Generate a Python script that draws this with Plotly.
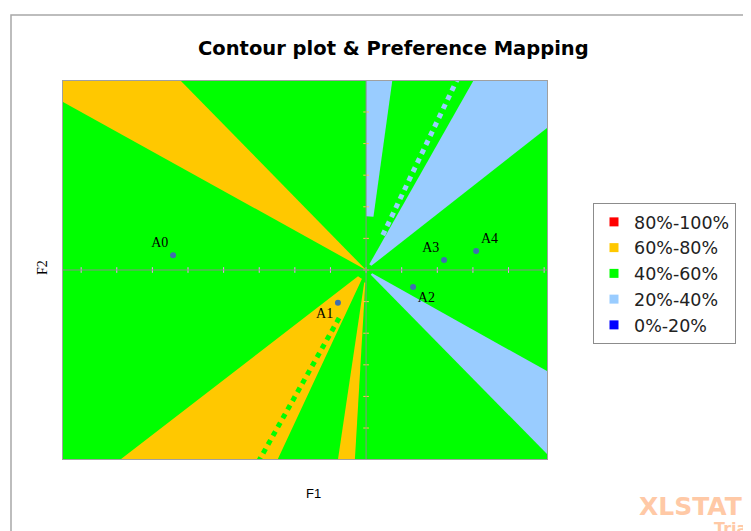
import numpy as np
import plotly.graph_objects as go

# ---------------- data ----------------
# contour classes (preference %) and their legend colours
class_labels = ["80%-100%", "60%-80%", "40%-60%", "20%-40%", "0%-20%"]
class_colors = ["#FF0000", "#FFC800", "#00FF00", "#99CCFF", "#0000FF"]

# wedge-shaped contour regions around the origin (angles in degrees, data space)
region_class = ["60%-80%", "60%-80%", "60%-80%", "20%-40%", "20%-40%", "20%-40%"]
region_start_deg = [131.0, 221.0, 262.5, 83.0, 41.5, -48.9]
region_end_deg = [148.0, 247.5, 267.0, 90.0, 63.3, -32.2]
region_inner_r = [0.0, 0.3, 0.4, 1.7, 0.2, 0.2]

# dotted boundary rays
ray_class = ["40%-60%", "20%-40%"]
ray_angle_deg = [243.5, 67.0]
ray_inner_r = [1.7, 1.2]

# products in the preference map
prod_names = ["A0", "A1", "A2", "A3", "A4"]
prod_f1 = [-5.42, -0.79, 1.32, 2.19, 3.09]
prod_f2 = [0.47, -1.04, -0.54, 0.32, 0.60]
prod_label_pos = ["top left", "bottom left", "bottom right", "top left", "top right"]

# axis ticks on the zero lines
x_ticks = list(range(-8, 6))
y_ticks = list(range(-5, 6))
x_range = [-8.51, 5.08]
y_range = [-5.98, 5.98]

color_of = dict(zip(class_labels, class_colors))
R_OUT = 40.0

# page offset (browser body margin) compensation
OFF = 8
W, H = 751 - OFF, 531 - OFF
PL, PT, PR, PB = 63 - OFF, 81 - OFF, 547 - OFF, 459 - OFF
PW, PH = PR - PL, PB - PT


def px(x):
    return (x - OFF - PL) / PW


def py(y):
    return (PB - (y - OFF)) / PH


fig = go.Figure()

# regions (green background = 40%-60%)
for cls, a1, a2, rin in zip(region_class, region_start_deg, region_end_deg, region_inner_r):
    ang = np.radians(np.linspace(a1, a2, 60))
    xs = list(R_OUT * np.cos(ang))
    ys = list(R_OUT * np.sin(ang))
    if rin > 0:
        xs += list(rin * np.cos(ang[::-1]))
        ys += list(rin * np.sin(ang[::-1]))
    else:
        xs.append(0.0)
        ys.append(0.0)
    xs.append(xs[0]); ys.append(ys[0])
    fig.add_trace(go.Scatter(x=xs, y=ys, mode="lines", fill="toself",
                             fillcolor=color_of[cls], line=dict(width=0),
                             hoverinfo="skip", showlegend=False))

# dotted rays
for cls, a, rin in zip(ray_class, ray_angle_deg, ray_inner_r):
    t = np.radians(a)
    fig.add_trace(go.Scatter(x=[rin * np.cos(t), R_OUT * np.cos(t)],
                             y=[rin * np.sin(t), R_OUT * np.sin(t)],
                             mode="lines",
                             line=dict(color=color_of[cls], width=5, dash="5px,5px"),
                             hoverinfo="skip", showlegend=False))

# tick marks on zero lines
fig.add_trace(go.Scatter(x=x_ticks, y=[0] * len(x_ticks), mode="markers",
                         marker=dict(symbol="line-ns-open", size=4,
                                     line=dict(color="#8C8C8C", width=1)),
                         hoverinfo="skip", showlegend=False))
fig.add_trace(go.Scatter(x=[0] * len(y_ticks), y=y_ticks, mode="markers",
                         marker=dict(symbol="line-ew-open", size=4,
                                     line=dict(color="#8C8C8C", width=1)),
                         hoverinfo="skip", showlegend=False))

# products
fig.add_trace(go.Scatter(x=prod_f1, y=prod_f2, mode="markers+text",
                         text=prod_names, textposition=prod_label_pos,
                         textfont=dict(family="Liberation Serif", size=14, color="black"),
                         marker=dict(color="#3F6FAF", size=6),
                         showlegend=False))

# legend entries
for lab, col in zip(class_labels, class_colors):
    fig.add_trace(go.Scatter(x=[None], y=[None], mode="markers", name=lab,
                             legendgroup=lab,
                             marker=dict(symbol="square", size=9, color=col)))

fig.update_xaxes(range=x_range, showgrid=False, zeroline=False, showticklabels=False,
                 ticks="", showline=True, linecolor="#A0A0A0", linewidth=1, mirror=True)
fig.update_yaxes(range=y_range, showgrid=False, zeroline=False, showticklabels=False,
                 ticks="", showline=True, linecolor="#A0A0A0", linewidth=1, mirror=True)

fig.update_layout(
    width=W, height=H, autosize=False,
    margin=dict(l=PL, r=W - PR, t=PT, b=H - PB),
    paper_bgcolor="white", plot_bgcolor="#00FF00",
    showlegend=True,
    legend=dict(x=px(593), y=py(203), xanchor="left", yanchor="top",
                bgcolor="white", bordercolor="#8C8C8C", borderwidth=1,
                font=dict(family="DejaVu Sans", size=17.5, color="#222222"),
                tracegroupgap=0, itemwidth=30),
    shapes=[
        dict(type="line", xref="x", yref="y", x0=x_range[0], x1=x_range[1], y0=0, y1=0,
             line=dict(color="#8C8C8C", width=1), layer="above"),
        dict(type="line", xref="x", yref="y", x0=0, x1=0, y0=y_range[0], y1=y_range[1],
             line=dict(color="#8C8C8C", width=1), layer="above"),
        dict(type="rect", xref="paper", yref="paper", x0=px(11), x1=px(800), y0=py(560), y1=py(15),
             line=dict(color="#A8A8A8", width=1.5), fillcolor="rgba(0,0,0,0)", layer="below"),
    ],
    annotations=[
        dict(text="<b>Contour plot & Preference Mapping</b>", xref="paper", yref="paper",
             x=px(393), y=py(48), xanchor="center", yanchor="middle", showarrow=False,
             font=dict(family="DejaVu Sans", size=19.5, color="black")),
        dict(text="F1", xref="paper", yref="paper", x=px(313), y=py(493),
             xanchor="center", yanchor="middle", showarrow=False,
             font=dict(family="Liberation Sans", size=13, color="black")),
        dict(text="F2", xref="paper", yref="paper", x=px(42), y=py(268),
             xanchor="center", yanchor="middle", showarrow=False, textangle=-90,
             font=dict(family="Liberation Serif", size=14, color="black")),
        dict(text="<b>XLSTAT</b>", xref="paper", yref="paper", x=px(637),
             y=py(506), xanchor="left", yanchor="middle", showarrow=False,
             font=dict(family="DejaVu Sans", size=25, color="#FFC9A6")),
        dict(text="<b>Trial</b>", xref="paper", yref="paper", x=px(712),
             y=py(528), xanchor="left", yanchor="middle", showarrow=False,
             font=dict(family="DejaVu Sans", size=16, color="#FFC9A6")),
    ],
)

fig.write_html("out.html")
